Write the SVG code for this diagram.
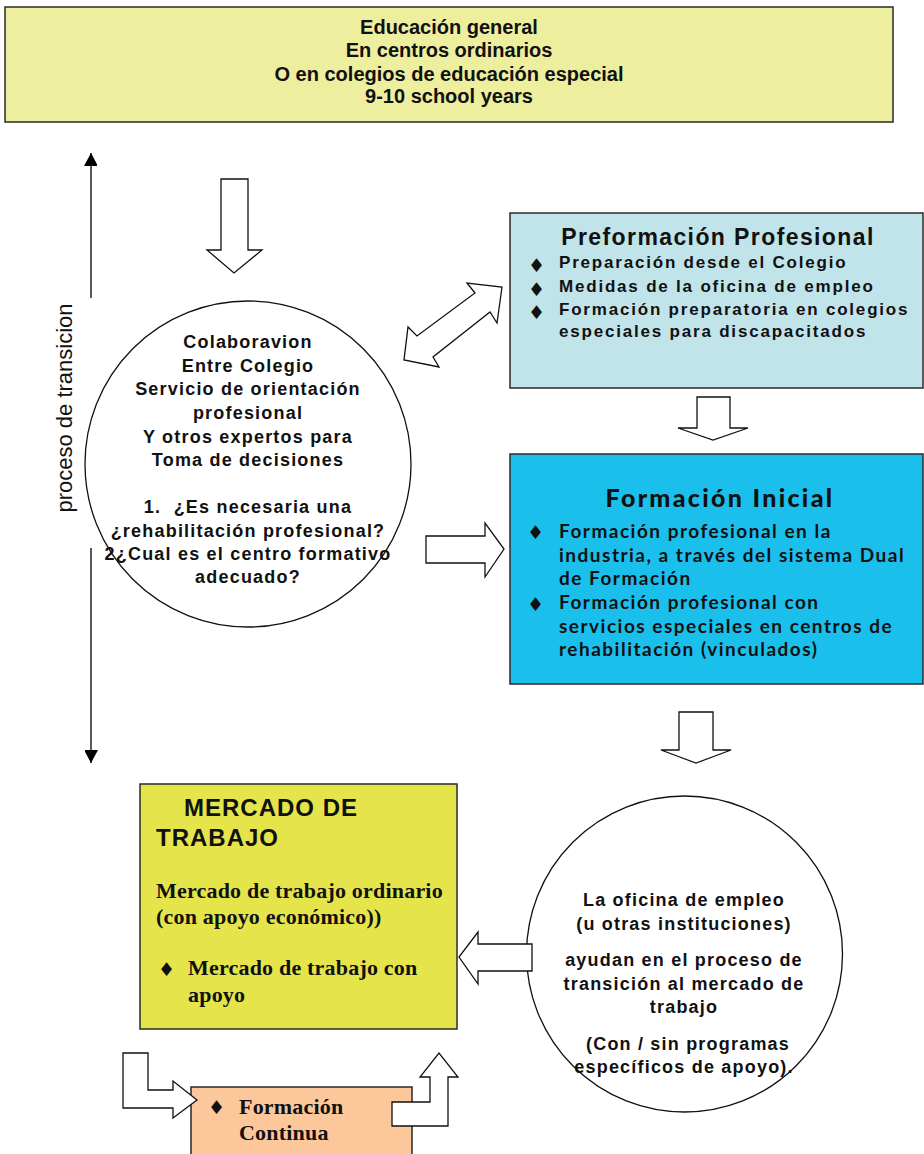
<svg xmlns="http://www.w3.org/2000/svg" width="924" height="1154" viewBox="0 0 924 1154">
<style>
.box{stroke:#2a2a2a;stroke-width:1.5}
.arr{fill:#fff;stroke:#111;stroke-width:1.3;stroke-linejoin:miter}
.ln{stroke:#000;stroke-width:1.3;fill:none}
.t20{font-family:"Liberation Sans",Arial,sans-serif;font-weight:bold;font-size:20px;fill:#111;text-anchor:middle}
.tc{font-family:"Liberation Sans",Arial,sans-serif;font-weight:bold;font-size:18px;letter-spacing:1.2px;fill:#111;text-anchor:middle;white-space:pre}
.tp{font-family:"Liberation Sans",Arial,sans-serif;font-weight:bold;font-size:17px;letter-spacing:1.8px;fill:#111}
.tl{font-family:Lato,"Open Sans",sans-serif;font-weight:bold;font-size:19px;letter-spacing:1.5px;fill:#111}
.ts{font-family:"Liberation Serif","Times New Roman",serif;font-weight:bold;font-size:22px;letter-spacing:0.2px;fill:#111}
.bul{font-family:"DejaVu Sans",sans-serif;font-size:19px;fill:#111}
</style>
<defs>
<marker id="ah" viewBox="0 0 14 13" refX="13" refY="7" markerWidth="14" markerHeight="13" markerUnits="userSpaceOnUse" orient="auto">
<path d="M0,0 L13,7 L0,14 Z" fill="#000"/>
</marker>
</defs>

<g id="educacion-general">
<rect class="box" x="5" y="7" width="888" height="115" fill="#eeee9f"/>
<text class="t20" x="449" y="34">Educación general</text>
<text class="t20" x="449" y="57">En centros ordinarios</text>
<text class="t20" x="449" y="81">O en colegios de educación especial</text>
<text class="t20" x="449" y="103">9-10 school years</text>
</g>

<g id="proceso-transicion">
<line class="ln" x1="91" y1="298" x2="91" y2="153" marker-end="url(#ah)"/>
<line class="ln" x1="91" y1="548" x2="91" y2="763" marker-end="url(#ah)"/>
<text x="72" y="408" transform="rotate(-90 72 408)" font-family="Liberation Sans, Arial, sans-serif" font-size="22" fill="#111" text-anchor="middle">proceso de transicion</text>
</g>

<g id="colaboracion">
<circle cx="248" cy="464" r="163" fill="#fff" stroke="#111" stroke-width="1.3"/>
<text class="tc" x="248" y="348">Colaboravion</text>
<text class="tc" x="248" y="372">Entre Colegio</text>
<text class="tc" x="248" y="395">Servicio de orientación</text>
<text class="tc" x="248" y="419">profesional</text>
<text class="tc" x="248" y="443">Y otros expertos para</text>
<text class="tc" x="248" y="466">Toma de decisiones</text>
<text class="tc" x="248" y="513">1.  ¿Es necesaria una</text>
<text class="tc" x="248" y="537">¿rehabilitación profesional?</text>
<text class="tc" x="248" y="560">2¿Cual es el centro formativo</text>
<text class="tc" x="248" y="583">adecuado?</text>
</g>

<g id="preformacion">
<rect class="box" x="510" y="213" width="413" height="175" fill="#c0e4ea"/>
<text x="718" y="245" font-family="Liberation Sans, Arial, sans-serif" font-weight="bold" font-size="23" letter-spacing="1.4" fill="#111" text-anchor="middle">Preformación Profesional</text>
<text class="bul" x="528" y="272">♦</text>
<text class="tp" x="559" y="268">Preparación desde el Colegio</text>
<text class="bul" x="528" y="296">♦</text>
<text class="tp" x="559" y="292">Medidas de la oficina de empleo</text>
<text class="bul" x="528" y="319">♦</text>
<text class="tp" x="559" y="315">Formación preparatoria en colegios</text>
<text class="tp" x="559" y="337">especiales para discapacitados</text>
</g>

<g id="formacion-inicial">
<rect class="box" x="510" y="454" width="413" height="230" fill="#1bbfec"/>
<text x="720" y="507" font-family="Lato, Open Sans, sans-serif" font-weight="900" font-size="25" letter-spacing="2.3" fill="#111" text-anchor="middle">Formación Inicial</text>
<text class="bul" x="527" y="539">♦</text>
<text class="tl" x="559" y="538">Formación profesional en la</text>
<text class="tl" x="559" y="562">industria, a través del sistema Dual</text>
<text class="tl" x="559" y="585">de Formación</text>
<text class="bul" x="527" y="611">♦</text>
<text class="tl" x="559" y="609">Formación profesional con</text>
<text class="tl" x="559" y="633">servicios especiales en centros de</text>
<text class="tl" x="559" y="656">rehabilitación (vinculados)</text>
</g>

<g id="mercado-trabajo">
<rect class="box" x="140" y="784" width="317" height="245" fill="#e5e54b"/>
<text x="184" y="816" font-family="Liberation Sans, Arial, sans-serif" font-weight="bold" font-size="24" letter-spacing="1" fill="#111">MERCADO DE</text>
<text x="156" y="846" font-family="Liberation Sans, Arial, sans-serif" font-weight="bold" font-size="24" letter-spacing="1" fill="#111">TRABAJO</text>
<text class="ts" x="156" y="898">Mercado de trabajo ordinario</text>
<text class="ts" x="156" y="924">(con apoyo económico))</text>
<text class="bul" x="158" y="976">♦</text>
<text class="ts" x="188" y="975">Mercado de trabajo con</text>
<text class="ts" x="188" y="1002">apoyo</text>
</g>

<g id="oficina-empleo">
<circle cx="684.5" cy="954" r="158" fill="#fff" stroke="#111" stroke-width="1.3"/>
<text class="tc" x="684" y="906">La oficina de empleo</text>
<text class="tc" x="684" y="930">(u otras instituciones)</text>
<text class="tc" x="684" y="966">ayudan en el proceso de</text>
<text class="tc" x="684" y="990">transición al mercado de</text>
<text class="tc" x="684" y="1013">trabajo</text>
<text class="tc" x="688" y="1050">(Con / sin programas</text>
<text class="tc" x="684" y="1073">específicos de apoyo).</text>
</g>

<g id="formacion-continua">
<rect class="box" x="191" y="1087" width="221" height="80" fill="#fbc79b"/>
<text class="bul" x="208" y="1114">♦</text>
<text class="ts" x="239" y="1114">Formación</text>
<text class="ts" x="239" y="1140">Continua</text>
</g>

<g id="connectors">
<polygon class="arr" points="221,179 248,179 248,250 262,250 234,273 207,250 221,250"/>
<polygon class="arr" points="502,287 497,323 490,312 433,357 439,367 404,360 408,327 417,336 475,293 467,283"/>
<polygon class="arr" points="426,536 485,536 485,523 504,549 485,577 485,563 426,563"/>
<polygon class="arr" points="697,397 730,397 730,428 748,428 713,440 678,428 697,428"/>
<polygon class="arr" points="679,712 713,712 713,750 731,750 696,763 661,750 679,750"/>
<polygon class="arr" points="532,944 478,944 478,932 459,957 478,984 478,971 532,971"/>
<polygon class="arr" points="123,1053 148,1053 148,1090 173,1090 173,1081 197,1100 173,1118 173,1108 123,1108"/>
<polygon class="arr" points="392,1102 430,1102 430,1077 420,1077 439,1053 458,1077 448,1077 448,1126 392,1126"/>
</g>
</svg>
